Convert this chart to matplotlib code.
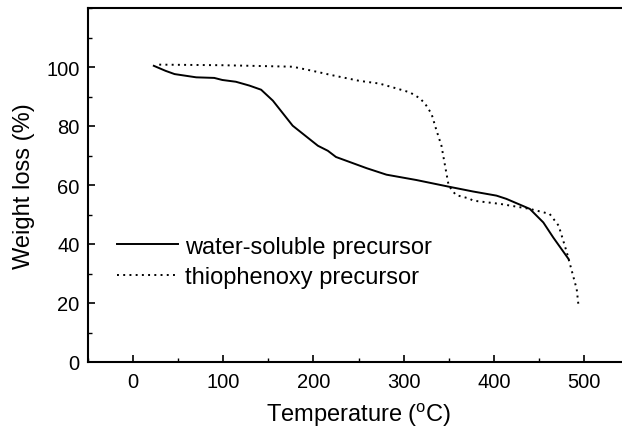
import matplotlib
matplotlib.use("Agg")
from matplotlib import pyplot as plt
from matplotlib.ticker import MultipleLocator

plt.rcParams['font.family'] = ['Liberation Sans', 'DejaVu Sans']
plt.rcParams['mathtext.fontset'] = 'custom'
plt.rcParams['mathtext.rm'] = 'Liberation Sans'

# water-soluble precursor (solid)
waterT = [23, 36, 46, 70, 90, 99, 114, 129, 142, 155, 177, 205, 216, 225, 259, 281,
          314, 349, 377, 403, 414, 440, 455, 466, 483]
waterW = [100.4, 98.7, 97.6, 96.5, 96.3, 95.6, 95.0, 93.7, 92.3, 88.6, 80.1, 73.3, 71.6,
          69.5, 65.7, 63.5, 61.7, 59.5, 57.8, 56.4, 55.3, 51.9, 47.3, 42.2, 34.9]

# thiophenoxy precursor (dotted)
thioT = [29, 100, 177, 199, 221, 251, 273, 288, 307, 318, 324, 331, 336, 342, 346, 350,
         358, 373, 377, 407, 440, 462, 472, 481, 486, 492, 494]
thioW = [100.8, 100.6, 100.1, 98.7, 97.2, 95.3, 94.4, 93.1, 91.4, 89.4, 87.5, 84.1, 79.0,
         73.3, 66.5, 59.8, 56.6, 55.4, 54.7, 53.6, 51.9, 50.2, 46.2, 37.2, 31.5, 24.7, 19.1]

fig = plt.figure(figsize=(6.22, 4.31), dpi=100)
ax = fig.add_axes([88/622, 1-363/431, 541/622, 354/431])

ax.plot(waterT, waterW, color='black', lw=1.4, label='water-soluble precursor')
ax.plot(thioT, thioW, color='black', lw=1.4, ls=(0, (1, 2.2)), label='thiophenoxy precursor')

ax.set_xlim(-50, 550)
ax.set_ylim(0, 120)
ax.xaxis.set_major_locator(MultipleLocator(100))
ax.xaxis.set_minor_locator(MultipleLocator(50))
ax.yaxis.set_major_locator(MultipleLocator(20))
ax.yaxis.set_minor_locator(MultipleLocator(10))
ax.set_yticks([0, 20, 40, 60, 80, 100])
ax.tick_params(which='major', direction='in', length=5, width=1.2, labelsize=14.5)
ax.tick_params(axis='x', which='major', pad=7)
ax.tick_params(axis='y', which='major', pad=6)
ax.tick_params(which='minor', direction='in', length=3, width=1.0)
for s in ax.spines.values():
    s.set_linewidth(1.5)

ax.set_xlabel('Temperature ($\\mathrm{^{o}}$C)', fontsize=17, labelpad=7)
ax.set_ylabel('Weight loss (%)', fontsize=17, labelpad=8)

ax.legend(frameon=False, loc='upper left', bbox_to_anchor=(0.028, 0.397), fontsize=17,
          handlelength=2.55, handletextpad=0.3, labelspacing=0.35, borderaxespad=0.3,
          borderpad=0.3)

fig.savefig('out.png', dpi=100)
